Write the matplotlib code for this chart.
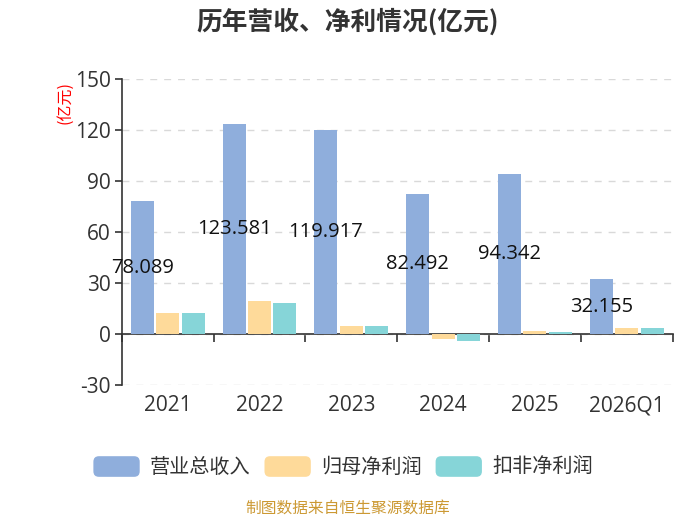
import matplotlib.pyplot as plt
import numpy as np
from matplotlib.patches import Patch, FancyBboxPatch
from matplotlib.legend_handler import HandlerPatch
from matplotlib.ticker import FixedLocator

plt.rcParams['font.family'] = ['Open Sans', 'Noto Sans CJK SC', 'DejaVu Sans']
plt.rcParams['axes.unicode_minus'] = False

years = ['2021', '2022', '2023', '2024', '2025', '2026Q1']
revenue = [78.089, 123.581, 119.917, 82.492, 94.342, 32.155]
net_profit = [12.6, 19.4, 4.9, -3.2, 2.0, 3.6]
deducted = [12.1, 18.3, 4.5, -4.3, 0.9, 3.6]
series_names = ['营业总收入', '归母净利润', '扣非净利润']
colors = ['#8FAEDC', '#FEDA9A', '#86D5D8']

cjk = ['Noto Sans CJK SC', 'DejaVu Sans']


class RoundHandler(HandlerPatch):
    def create_artists(self, legend, orig_handle, xdescent, ydescent,
                       width, height, fontsize, trans):
        p = FancyBboxPatch((-xdescent, -ydescent), width, height,
                           boxstyle='round,pad=0,rounding_size=4',
                           facecolor=orig_handle.get_facecolor(),
                           edgecolor='none', transform=trans)
        return [p]


fig = plt.figure(figsize=(7, 5.25), dpi=100)
ax = fig.add_axes([0.174, 0.2667, 0.787, 0.5828])

x = np.arange(len(years))
w = 0.25
step = 0.277
ax.bar(x - step, revenue, w, color=colors[0], zorder=3)
ax.bar(x, net_profit, w, color=colors[1], zorder=3)
ax.bar(x + step, deducted, w, color=colors[2], zorder=3)

for xi, v in zip(x, revenue):
    ax.text(xi - step, v / 2, f'{v:.3f}', ha='center', va='center',
            fontsize=14.5, color='#111111', zorder=4)

ax.set_xlim(-0.5, len(years) - 0.5)
ax.set_ylim(-30, 150)
ax.set_yticks(range(-30, 151, 30))
ax.grid(axis='y', color='#d9d9d9', linestyle=(0, (5, 5)), linewidth=1, zorder=0)

for s in ['top', 'right']:
    ax.spines[s].set_visible(False)
ax.spines['bottom'].set_position(('data', 0))
ax.spines['bottom'].set_color('#333333')
ax.spines['left'].set_color('#333333')
ax.spines['bottom'].set_linewidth(1.2)
ax.spines['left'].set_linewidth(1.2)

ax.set_xticks(x)
ax.set_xticklabels(years)
ax.xaxis.set_minor_locator(FixedLocator(np.arange(-0.5, len(years), 1)))
ax.tick_params(axis='x', which='major', length=0, pad=44, labelsize=15,
               labelcolor='#333333')
ax.tick_params(axis='x', which='minor', length=6, width=1.2, color='#333333',
               direction='out')
ax.tick_params(axis='y', length=5, width=1.2, color='#333333', labelsize=15,
               labelcolor='#333333', pad=3)

fig.text(0.093, 0.805, '(亿元)', rotation=90, color='red', fontsize=11.5,
         ha='center', va='center', family=cjk)

fig.suptitle('历年营收、净利情况(亿元)', x=0.497, y=0.985, fontsize=18.5,
             fontweight='bold', color='#333333', family=cjk)

handles = [Patch(facecolor=c, label=n) for c, n in zip(colors, series_names)]
fig.legend(handles=handles, loc='center', bbox_to_anchor=(0.49, 0.11),
           ncol=3, frameon=False, handlelength=2.3,
           handleheight=1.2, handletextpad=0.5, columnspacing=0.7,
           labelcolor='#333333', handler_map={Patch: RoundHandler()},
           prop={'family': cjk, 'size': 14.5})

fig.text(0.497, 0.015, '制图数据来自恒生聚源数据库', ha='center', va='bottom',
         fontsize=11.3, color='#CC9933', family=cjk)

fig.savefig('out.png', dpi=100)
